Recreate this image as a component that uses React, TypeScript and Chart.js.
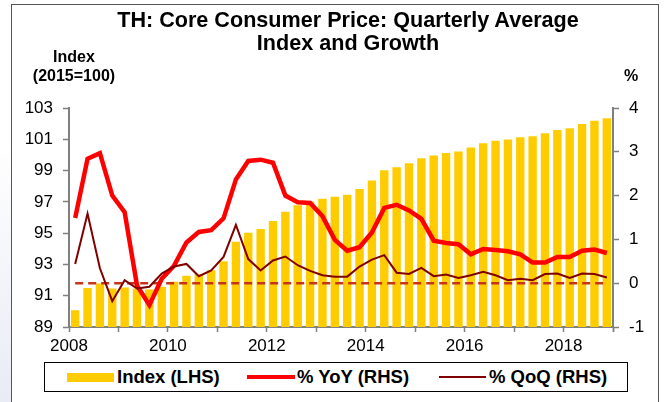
import React, { useEffect, useRef } from "react";
import { Chart, registerables } from "chart.js";

Chart.register(...registerables);

// Quarterly data, 2008 Q1 .. 2018 Q4
const indexValues = [
  90.07, 91.5, 91.78, 91.46, 91.52, 91.46, 91.4, 91.57, 91.9, 92.27, 92.38, 92.63,
  93.21, 94.45, 95.03, 95.26, 95.78, 96.37, 96.78, 97.03, 97.2, 97.33, 97.46, 97.82,
  98.36, 99.02, 99.21, 99.47, 99.79, 99.96, 100.13, 100.22, 100.48, 100.74, 100.91, 100.98,
  101.13, 101.2, 101.39, 101.6, 101.71, 101.97, 102.19, 102.34,
];
const yoyValues = [
  1.49, 2.84, 2.97, 2.0, 1.62, -0.05, -0.5, 0.1, 0.4, 0.93, 1.17, 1.21,
  1.48, 2.37, 2.79, 2.82, 2.75, 2.0, 1.85, 1.83, 1.53, 0.99, 0.74, 0.82,
  1.16, 1.72, 1.79, 1.66, 1.47, 0.97, 0.92, 0.89, 0.66, 0.78, 0.76, 0.73,
  0.66, 0.47, 0.47, 0.6, 0.6, 0.74, 0.77, 0.69,
];
const qoqValues = [
  0.44, 1.59, 0.34, -0.41, 0.07, -0.12, -0.08, 0.22, 0.38, 0.44, 0.16, 0.29,
  0.6, 1.33, 0.55, 0.29, 0.52, 0.61, 0.41, 0.28, 0.18, 0.15, 0.15, 0.38,
  0.54, 0.64, 0.24, 0.21, 0.35, 0.16, 0.2, 0.12, 0.18, 0.26, 0.18, 0.07,
  0.1, 0.07, 0.21, 0.22, 0.12, 0.22, 0.21, 0.13,
];
const referenceLevel = 0;
// one tick per year boundary (every 4 quarters)
const xTickLabels = ["2008", "", "2010", "", "2012", "", "2014", "", "2016", "", "2018", ""];
const leftTicks = { min: 89, max: 103, step: 2 };
const rightTicks = { min: -1, max: 4, step: 1 };

const FONT = 'Arial, "Liberation Sans", sans-serif';

export default function App() {
  const canvasRef = useRef<HTMLCanvasElement | null>(null);

  useEffect(() => {
    if (!canvasRef.current) return;
    Chart.defaults.font.family = FONT;
    const n = indexValues.length;
    const pts = (arr: number[]) => arr.map((v, i) => ({ x: i + 0.5, y: v }));
    const chart = new Chart(canvasRef.current, {
      type: "bar",
      data: {
        datasets: [
          {
            type: "line",
            label: "% QoQ (RHS)",
            data: pts(qoqValues),
            borderColor: "#800000",
            borderWidth: 2,
            pointRadius: 0,
            tension: 0,
            yAxisID: "y1",
            order: 0,
          } as any,
          {
            type: "line",
            label: "% YoY (RHS)",
            data: pts(yoyValues),
            borderColor: "#FF0000",
            borderWidth: 4.5,
            pointRadius: 0,
            tension: 0,
            yAxisID: "y1",
            order: 1,
          } as any,
          {
            type: "line",
            label: "zero",
            data: [
              { x: 0.5, y: referenceLevel },
              { x: n - 0.5, y: referenceLevel },
            ],
            borderColor: "#C8341A",
            borderWidth: 2.5,
            borderDash: [8, 5],
            pointRadius: 0,
            yAxisID: "y1",
            order: 2,
          } as any,
          {
            type: "bar",
            label: "Index (LHS)",
            data: pts(indexValues),
            backgroundColor: "#FFCC00",
            barPercentage: 0.68,
            categoryPercentage: 1,
            yAxisID: "y",
            order: 3,
          } as any,
        ],
      },
      options: {
        responsive: false,
        animation: false,
        events: [],
        layout: { padding: { top: 108, left: 0, right: 0, bottom: 0 } },
        plugins: { legend: { display: false }, title: { display: false }, tooltip: { enabled: false } },
        scales: {
          x: {
            type: "linear",
            min: 0,
            max: n,
            offset: false,
            afterFit: (s: any) => {
              s.height = 75;
            },
            afterBuildTicks: (s: any) => {
              s.ticks = xTickLabels.map((_, k) => ({ value: k * 4 })).concat([{ value: n }]);
            },
            ticks: {
              autoSkip: false,
              maxRotation: 0,
              padding: 4,
              color: "#000",
              font: { size: 17 },
              callback: (v: any) => xTickLabels[Math.round(Number(v) / 4)] ?? "",
            },
            grid: {
              drawOnChartArea: false,
              drawTicks: true,
              tickLength: 5,
              color: "#808080",
              tickColor: "#808080",
              tickWidth: 1.5,
              offset: false,
            },
            border: { display: true, color: "#808080", width: 2 },
          },
          y: {
            position: "left",
            min: leftTicks.min,
            max: leftTicks.max,
            afterFit: (s: any) => {
              s.width = 69;
            },
            ticks: { stepSize: leftTicks.step, padding: 10, color: "#000", font: { size: 17 } },
            grid: {
              drawOnChartArea: false,
              drawTicks: true,
              tickLength: 6,
              color: "#808080",
              tickColor: "#808080",
              tickWidth: 1.5,
            },
            border: { display: true, color: "#808080", width: 2 },
          },
          y1: {
            position: "right",
            min: rightTicks.min,
            max: rightTicks.max,
            afterFit: (s: any) => {
              s.width = 51;
            },
            ticks: { stepSize: rightTicks.step, padding: 10, color: "#000", font: { size: 17 } },
            grid: {
              drawOnChartArea: false,
              drawTicks: true,
              tickLength: 6,
              color: "#808080",
              tickColor: "#808080",
              tickWidth: 1.5,
            },
            border: { display: true, color: "#808080", width: 2 },
          },
        },
      } as any,
    });
    return () => chart.destroy();
  }, []);

  const abs = (s: React.CSSProperties): React.CSSProperties => ({ position: "absolute", ...s });
  const legendText: React.CSSProperties = { fontFamily: FONT, fontWeight: "bold", fontSize: 18.5, lineHeight: "21px", color: "#000", whiteSpace: "nowrap" };

  return (
    <div style={{ position: "fixed", left: 0, top: 0, width: 664, height: 402, background: "#fff", overflow: "hidden" }}>
      <div style={abs({ left: 0, top: 0, width: 11, height: 402, background: "linear-gradient(to bottom, #ffffff 35%, #e9ebf5 100%)" })} />
      <div style={abs({ left: 11, top: 4, width: 648, height: 420, border: "1px solid #555", boxSizing: "border-box" })} />
      <canvas ref={canvasRef} width={664} height={402} style={abs({ left: 0, top: 0, width: 664, height: 402 })} />
      <div style={abs({ left: 0, top: 8, width: 696, textAlign: "center", fontFamily: FONT, fontWeight: "bold", fontSize: 21.6, lineHeight: "23px", color: "#000" })}>
        TH: Core Consumer Price: Quarterly Average
        <br />
        Index and Growth
      </div>
      <div style={abs({ left: 0, top: 47, width: 148, textAlign: "center", fontFamily: FONT, fontWeight: "bold", fontSize: 16, lineHeight: "19px", color: "#000" })}>
        Index
        <br />
        (2015=100)
      </div>
      <div style={abs({ left: 624, top: 66, fontFamily: FONT, fontWeight: "bold", fontSize: 16, lineHeight: "19px", color: "#000" })}>%</div>
      <div style={abs({ left: 44, top: 362, width: 584, height: 30, border: "1px solid #000", boxSizing: "border-box", background: "#fff" })}>
        <div style={abs({ left: 22, top: 10, width: 47, height: 9, background: "#FFCC00" })} />
        <div style={abs({ left: 72, top: 3, ...legendText })}>Index (LHS)</div>
        <div style={abs({ left: 202, top: 12, width: 48, height: 4, background: "#FF0000" })} />
        <div style={abs({ left: 252, top: 3, ...legendText })}>% YoY (RHS)</div>
        <div style={abs({ left: 394, top: 13, width: 47, height: 2, background: "#800000" })} />
        <div style={abs({ left: 444, top: 3, ...legendText })}>% QoQ (RHS)</div>
      </div>
    </div>
  );
}
